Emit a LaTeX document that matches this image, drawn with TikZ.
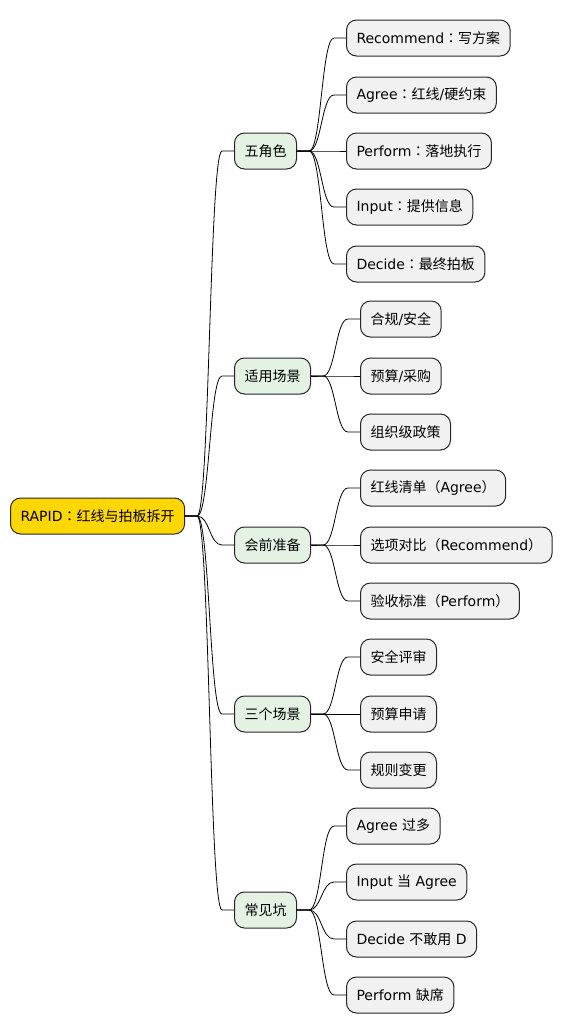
\documentclass[tikz,border=0pt]{standalone}
\usepackage{fontspec}
\setmainfont{DejaVu Sans}
\newfontfamily\cjk{Noto Sans CJK SC}
\newfontfamily\cjkpunct{Noto Sans CJK JP}
\newcommand\fwcolon{{\cjkpunct ：}}
\definecolor{rootyellow}{HTML}{FFD700}
\definecolor{topicgreen}{HTML}{E3F2E3}
\definecolor{leafgray}{HTML}{F1F1F1}
\tikzset{
  box/.style={draw=black!85,line width=1pt,rounded corners=10pt,minimum height=36pt,
    inner xsep=10pt,inner ysep=0pt,anchor=west},
  rootbox/.style={box,fill=rootyellow},
  topic/.style={box,fill=topicgreen},
  leaf/.style={box,fill=leafgray},
  link/.style={line width=0.8pt}
}
\begin{document}
\begin{tikzpicture}[x=1pt,y=-1pt,line join=round,line cap=round,font=\fontsize{14}{16}\selectfont]

  \useasboundingbox (0,0) rectangle (563,1034);

  % ---- radice ---------------------------------------------------------------
  \node[rootbox] (root) at (10,516) {RAPID\fwcolon{\cjk 红线与拍板拆开}};

  % ---- primo livello --------------------------------------------------------
  \node[topic] (five)  at (234,151) {{\cjk 五角色}};
  \node[topic] (fit)   at (234,376) {{\cjk 适用场景}};
  \node[topic] (prep)  at (234,545) {{\cjk 会前准备}};
  \node[topic] (three) at (234,714) {{\cjk 三个场景}};
  \node[topic] (pit)   at (234,910) {{\cjk 常见坑}};

  % ---- foglie ---------------------------------------------------------------
  \node[leaf] (rec) at (346,38)  {Recommend\fwcolon{\cjk 写方案}};
  \node[leaf] (agr) at (346,95)  {Agree\fwcolon{\cjk 红线}/{\cjk 硬约束}};
  \node[leaf] (per) at (346,151) {Perform\fwcolon{\cjk 落地执行}};
  \node[leaf] (inp) at (346,207) {Input\fwcolon{\cjk 提供信息}};
  \node[leaf] (dec) at (346,264) {Decide\fwcolon{\cjk 最终拍板}};

  \node[leaf] (comp) at (360,319) {{\cjk 合规}/{\cjk 安全}};
  \node[leaf] (buy)  at (360,376) {{\cjk 预算}/{\cjk 采购}};
  \node[leaf] (org)  at (360,432) {{\cjk 组织级政策}};

  \node[leaf] (red) at (360,488) {{\cjk 红线清单（}Agree{\cjk ）}};
  \node[leaf] (opt) at (360,545) {{\cjk 选项对比（}Recommend{\cjk ）}};
  \node[leaf] (acc) at (360,601) {{\cjk 验收标准（}Perform{\cjk ）}};

  \node[leaf] (sec)  at (360,657) {{\cjk 安全评审}};
  \node[leaf] (bud)  at (360,714) {{\cjk 预算申请}};
  \node[leaf] (rule) at (360,770) {{\cjk 规则变更}};

  \node[leaf] (pa) at (346,826) {Agree {\cjk 过多}};
  \node[leaf] (pb) at (346,882) {Input {\cjk 当} Agree};
  \node[leaf] (pc) at (346,939) {Decide {\cjk 不敢用} D};
  \node[leaf] (pd) at (346,995) {Perform {\cjk 缺席}};

  % ---- rami -----------------------------------------------------------------
  \foreach \p/\c in {root/five,root/fit,root/prep,root/three,root/pit,
      five/rec,five/agr,five/per,five/inp,five/dec,
      fit/comp,fit/buy,fit/org,
      prep/red,prep/opt,prep/acc,
      three/sec,three/bud,three/rule,
      pit/pa,pit/pb,pit/pc,pit/pd}{
    \path (\p.east) ++(12,0) coordinate (s);
    \path (\c.west) ++(-12,0) coordinate (e);
    \draw[link] (\p.east) -- (s) .. controls ([xshift=12.5pt]s) and ([xshift=-12.5pt]e) .. (e) -- (\c.west);
  }

\end{tikzpicture}
\end{document}
